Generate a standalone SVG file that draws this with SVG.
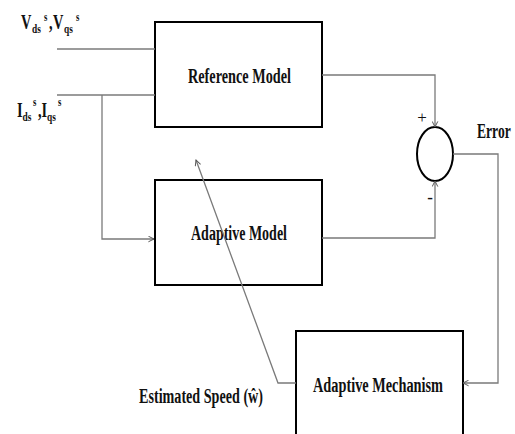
<svg xmlns="http://www.w3.org/2000/svg" width="515" height="434" viewBox="0 0 515 434">
  <style>
    .box { fill: none; stroke: #000000; stroke-width: 2; }
    .wire { fill: none; stroke: #7a7a7a; stroke-width: 1.3; }
    .lbl { font-family: "Liberation Serif", "Times New Roman", serif; font-weight: bold; fill: #111111; }
    .big { font-size: 20px; }
    .sub { font-size: 13px; }
    .sup { font-size: 12px; }
  </style>
  <defs>
    <marker id="chev" viewBox="0 0 10 10" refX="9" refY="5" markerWidth="7" markerHeight="7" markerUnits="userSpaceOnUse" orient="auto">
      <path d="M1,1 L9,5 L1,9" fill="none" stroke="#555555" stroke-width="1.4"/>
    </marker>
  </defs>
  <rect width="515" height="434" fill="#ffffff"/>

  <!-- input labels, set in a condensed serif -->
  <g id="input-v" transform="scale(0.72,1)">
    <text class="lbl big" x="29.2" y="29">V</text>
    <text class="lbl sub" x="44.4" y="33">ds</text>
    <text class="lbl sup" x="61.1" y="21">s</text>
    <text class="lbl big" x="68.1" y="29">,</text>
    <text class="lbl big" x="73.6" y="29">V</text>
    <text class="lbl sub" x="88.9" y="33">qs</text>
    <text class="lbl sup" x="105.6" y="21">s</text>
  </g>
  <g id="input-i" transform="scale(0.72,1)">
    <text class="lbl big" x="23.6" y="117">I</text>
    <text class="lbl sub" x="31.3" y="121">ds</text>
    <text class="lbl sup" x="45.8" y="106">s</text>
    <text class="lbl big" x="52.8" y="117">,</text>
    <text class="lbl big" x="57.6" y="117">I</text>
    <text class="lbl sub" x="65.3" y="121">qs</text>
    <text class="lbl sup" x="80.6" y="106">s</text>
  </g>

  <g id="reference-model">
    <rect class="box" x="155" y="22" width="167" height="105"/>
    <text class="lbl big" x="188" y="83" textLength="103" lengthAdjust="spacingAndGlyphs">Reference Model</text>
  </g>

  <g id="adaptive-model">
    <rect class="box" x="155" y="180" width="167" height="105"/>
    <text class="lbl big" x="191" y="240" textLength="96" lengthAdjust="spacingAndGlyphs">Adaptive Model</text>
  </g>

  <g id="summing-junction">
    <ellipse cx="435" cy="154" rx="18" ry="27" fill="#ffffff" stroke="#000000" stroke-width="2"/>
    <text x="422" y="123" font-family="Liberation Serif, serif" font-size="17" fill="#111111" text-anchor="middle">+</text>
    <text class="lbl" x="430" y="203" font-size="17" text-anchor="middle">-</text>
  </g>

  <g id="error-label" transform="translate(477,138) scale(0.68,1)">
    <text class="lbl big" x="0" y="0">Error</text>
  </g>

  <g id="adaptive-mechanism">
    <rect class="box" x="296" y="331" width="167" height="120"/>
    <text class="lbl big" x="313" y="392" textLength="130" lengthAdjust="spacingAndGlyphs">Adaptive Mechanism</text>
  </g>

  <g id="speed-label">
    <text class="lbl big" x="139" y="403" textLength="124" lengthAdjust="spacingAndGlyphs">Estimated Speed (ŵ)</text>
  </g>

  <!-- signal lines, drawn over the blocks -->
  <g id="connectors">
    <line class="wire" x1="57" y1="49" x2="155" y2="49"/>
    <line class="wire" x1="57" y1="95" x2="155" y2="95"/>
    <polyline class="wire" points="102,95 102,239 154,239" marker-end="url(#chev)"/>
    <polyline class="wire" points="322,75 435,75 435,127" marker-end="url(#chev)"/>
    <polyline class="wire" points="322,238 435,238 435,181" marker-end="url(#chev)"/>
    <polyline class="wire" points="453,154 498,154 498,383 463,383" marker-end="url(#chev)"/>
    <polyline class="wire" points="296,383 278,383 196,160" marker-end="url(#chev)"/>
  </g>
</svg>
